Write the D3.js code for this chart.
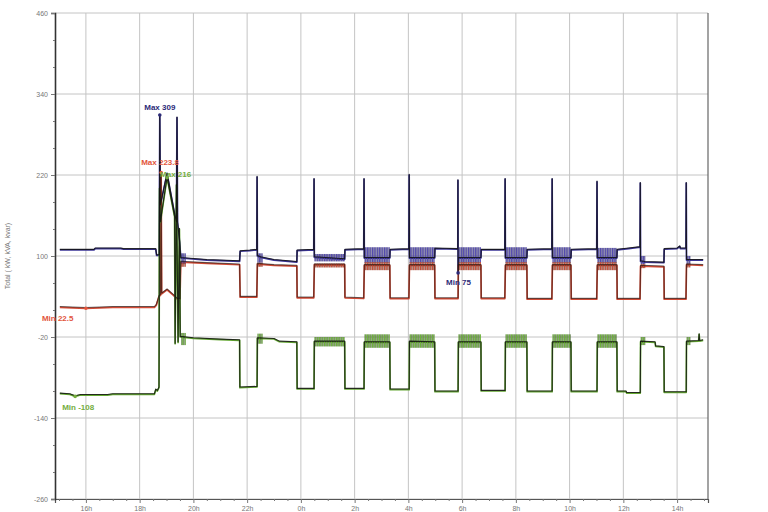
<!DOCTYPE html>
<html><head><meta charset="utf-8">
<script src="https://cdn.jsdelivr.net/npm/d3@7"></script>
<style>body{margin:0;background:#fff}svg{display:block}text{font-family:"Liberation Sans",Arial,sans-serif}</style>
</head><body><svg id="c" width="768" height="512"></svg>
<script>
// ---- data (hours; values > 24 are the next day) ----
const yTicks = [460, 340, 220, 100, -20, -140, -260];
const xTicks = [16, 18, 20, 22, 24, 26, 28, 30, 32, 34, 36, 38];
const yTitle = "Total ( kW, kVA, kvar)";

const kVA = [[15.03,109],[16.30,109],[16.35,111],[17.30,111],[17.40,110],[18.60,110],[18.63,101],[18.73,101],[18.75,309],[18.77,175],[19.02,222],[19.31,160],[19.37,150],[19.39,305],[19.41,150],[19.49,120],[19.53,97],[20.50,94],[21.72,92],
 [21.74,107],[22.10,108],[22.36,109],[22.37,217],[22.38,100],[22.50,98],[23.00,94],[23.85,91],
 [23.86,108],[24.48,109],[24.49,214],[24.50,98],[25.63,95],
 [25.64,109],[26.34,110],[26.35,214],[26.36,97],[27.31,97],
 [27.32,109],[28.02,110],[28.03,220],[28.04,97],[28.98,97],
 [28.99,111],[29.84,110],[29.845,212],[29.85,75],[29.86,97],[30.70,97],
 [30.71,109],[31.59,109],[31.60,214],[31.61,97],[32.41,97],
 [32.42,109],[33.34,110],[33.35,214],[33.36,97],[34.05,97],
 [34.06,109],[35.01,110],[35.02,210],[35.03,97],[35.76,97],
 [35.77,109],[36.20,111],[36.62,113],[36.63,208],[36.64,92],[36.80,91],[37.51,90],
 [37.52,110],[38.00,111],[38.10,114],[38.12,111],[38.33,111],[38.34,208],[38.35,94],[38.97,94]];

const kW = [[15.03,24],[16.00,22.5],[17.00,24],[18.55,24],[18.62,27],[18.72,40],[18.78,42],[18.80,223.8],[18.82,44],[19.02,50],[19.25,42],[19.40,36],[19.50,36],[19.53,91],[20.50,89],[21.72,87],
 [21.74,39],[22.36,39],[22.38,88],[23.00,86],[23.85,85],
 [23.86,38],[24.48,38],[24.50,87],[25.63,87],
 [25.64,38],[26.34,37],[26.36,86],[27.31,86],
 [27.32,37],[28.02,37],[28.04,86],[28.98,86],
 [28.99,37],[29.85,37],[29.86,86],[30.70,86],
 [30.71,37],[31.59,37],[31.61,86],[32.41,86],
 [32.42,36],[33.34,36],[33.36,86],[34.05,86],
 [34.06,36],[35.01,36],[35.03,86],[35.76,86],
 [35.77,36],[36.62,36],[36.64,85],[37.51,84],
 [37.52,36],[38.33,36],[38.35,87],[38.97,86]];

const kvar = [[15.03,-104],[15.40,-105],[15.60,-108],[15.80,-106],[16.80,-106],[17.00,-105],[18.55,-105],[18.60,-98],[18.66,-100],[18.72,-95],[18.74,200],[18.77,150],[19.02,216],[19.30,158],[19.32,-30],[19.37,205],[19.43,-28],[19.48,140],[19.51,-20],[20.00,-22],[21.00,-24],[21.72,-25],
 [21.73,-95],[22.37,-94],[22.38,-22],[23.00,-23],[23.20,-27],[23.85,-28],
 [23.86,-97],[24.49,-97],[24.50,-27],[25.63,-27],
 [25.64,-97],[26.35,-97],[26.36,-28],[27.31,-28],
 [27.32,-98],[28.03,-98],[28.04,-27],[28.98,-28],
 [28.99,-101],[29.85,-101],[29.86,-28],[30.70,-28],
 [30.71,-100],[31.60,-100],[31.61,-28],[32.41,-28],
 [32.42,-101],[33.35,-101],[33.36,-28],[34.05,-28],
 [34.06,-101],[35.02,-101],[35.03,-28],[35.76,-28],
 [35.77,-101],[36.10,-101],[36.12,-103],[36.63,-103],[36.64,-27],[37.18,-28],[37.20,-34],[37.51,-35],
 [37.52,-102],[38.34,-102],[38.35,-27],[38.80,-26],[38.82,-16],[38.84,-26],[38.97,-25]];

// noisy stretches and the range each trace fills inside them
const noiseSpans = [[19.54,19.72],[22.38,22.58],[24.50,25.63],[26.36,27.31],[28.04,28.98],[29.86,30.70],[31.61,32.41],[33.36,34.05],[35.03,35.76],[36.64,36.82],[38.35,38.50]];
const kVABand  = [[88,104],[90,104],[92,103],[90,113],[90,113],[90,113],[90,113],[90,113],[90,112],[88,100],[88,100]];
const kWBand   = [[84,90],[84,90],[83,89],[79,91],[79,91],[79,91],[79,91],[79,91],[79,91],[82,88],[83,89]];
const kvarBand = [[-32,-14],[-30,-15],[-34,-20],[-36,-16],[-36,-16],[-36,-16],[-36,-16],[-36,-16],[-36,-16],[-32,-20],[-32,-20]];

const notes = [
  {t:18.75, v:309,   text:"Max 309",   series:"kVA", dx:0,   dy:-5, anchor:"middle"},
  {t:18.80, v:223.8, text:"Max 223.8", series:"kW",  dx:-20, dy:-7, anchor:"start"},
  {t:19.02, v:216,   text:"Max 216",   series:"kvar",dx:-7,  dy:-1, anchor:"start"},
  {t:16.00, v:22.5,  text:"Min 22.5",  series:"kW",  dx:-44, dy:13, anchor:"start"},
  {t:15.60, v:-108,  text:"Min -108",  series:"kvar",dx:-13, dy:14, anchor:"start"},
  {t:29.85, v:75,    text:"Min 75",    series:"kVA", dx:-12, dy:12, anchor:"start"}
];

// ---- drawing ----
const colors = {kVA:"#3b3596", kW:"#d24a34", kvar:"#64a832"};
const labelColors = {kVA:"#2c2a78", kW:"#e2553c", kvar:"#74ad3e"};
const svg = d3.select("#c");
const L=55, R=708, T=13, B=499;
const x = d3.scaleLinear().domain([14.85,39.15]).range([L,R]);
const y = d3.scaleLinear().domain([-260,460]).range([B,T]);

const defs = svg.append("defs");
function stripe(id, col, dark){
  const p = defs.append("pattern").attr("id",id).attr("patternUnits","userSpaceOnUse").attr("width",2.4).attr("height",10);
  p.append("rect").attr("x",0).attr("y",0).attr("width",1.1).attr("height",10).attr("fill",col);
  p.append("rect").attr("x",1.2).attr("y",0).attr("width",0.8).attr("height",10).attr("fill",dark);
}
stripe("pB","#5046b0","#2a2466"); stripe("pR","#c84a32","#7a3020"); stripe("pG","#6cb634","#2e5018");

// grid
svg.append("g").selectAll("line").data(yTicks).join("line")
  .attr("x1",L).attr("x2",R).attr("y1",d=>y(d)).attr("y2",d=>y(d))
  .attr("stroke","#c4c4c4").attr("stroke-width",1);
svg.append("g").selectAll("line").data(xTicks).join("line")
  .attr("x1",d=>x(d)).attr("x2",d=>x(d)).attr("y1",T).attr("y2",B)
  .attr("stroke","#c4c4c4").attr("stroke-width",1);

// axes
const fmtH = d => (d % 24) + "h";
const gx = svg.append("g").attr("transform",`translate(0,${B})`)
  .call(d3.axisBottom(x).tickValues(xTicks).tickSize(4).tickFormat(fmtH));
const minorX = d3.range(15, 39.01, 0.5).filter(d=>!xTicks.includes(d));
svg.append("g").attr("transform",`translate(0,${B})`)
  .call(d3.axisBottom(x).tickValues(minorX).tickSize(2).tickFormat(""))
  .call(g=>g.select(".domain").remove());
const gy = svg.append("g").attr("transform",`translate(${L},0)`)
  .call(d3.axisLeft(y).tickValues(yTicks).tickSize(4).tickFormat(d=>String(d)));
const minorY = d3.range(-260, 461, 40).filter(d=>!yTicks.includes(d));
svg.append("g").attr("transform",`translate(${L},0)`)
  .call(d3.axisLeft(y).tickValues(minorY).tickSize(2).tickFormat(""))
  .call(g=>g.select(".domain").remove());
svg.selectAll(".tick line").attr("stroke","#777");
[gx,gy].forEach(g=>{
  g.selectAll("text").attr("fill","#777").attr("font-size","7px");
  g.select(".domain").attr("stroke","#333").attr("stroke-width",1.6);
});
gx.select(".domain").attr("stroke","#555").attr("stroke-width",1.2);
svg.append("line").attr("x1",R).attr("x2",R).attr("y1",T).attr("y2",B).attr("stroke","#666").attr("stroke-width",1.2);

svg.append("text").attr("transform",`translate(10,${(T+B)/2}) rotate(-90)`)
  .attr("text-anchor","middle").attr("font-size","7px").attr("fill","#777").text(yTitle);

// series
const line = d3.line().x(d=>x(d[0])).y(d=>y(d[1]));
const series = [["kVA",kVA],["kW",kW],["kvar",kvar]];
const plot = svg.append("g");
series.forEach(([k,data])=>{
  plot.append("path").attr("d",line(data)).attr("fill","none")
    .attr("stroke",colors[k]).attr("stroke-width",1.7).attr("stroke-linejoin","round");
});
// noise bands
const bandSets = [[kVABand,"pB"],[kWBand,"pR"],[kvarBand,"pG"]];
bandSets.forEach(([band,pat])=>{
  plot.append("g").selectAll("rect").data(noiseSpans).join("rect")
    .attr("x",d=>x(d[0])).attr("width",d=>x(d[1])-x(d[0]))
    .attr("y",(d,i)=>y(band[i][1])).attr("height",(d,i)=>y(band[i][0])-y(band[i][1]))
    .attr("fill",`url(#${pat})`);
});
// dark overlay traces
series.forEach(([k,data])=>{
  plot.append("path").attr("d",line(data)).attr("fill","none")
    .attr("transform", k==="kW" ? "translate(0,-0.8)" : "translate(0,-0.6)")
    .attr("stroke","#111").attr("stroke-opacity", k==="kW" ? 0.6 : 0.85)
    .attr("stroke-width",1.1).attr("stroke-linejoin","round");
});

// annotations
notes.forEach(n=>{
  const px=x(n.t), py=y(n.v);
  svg.append("circle").attr("cx",px).attr("cy",py).attr("r",1.8).attr("fill",labelColors[n.series]);
  svg.append("text").attr("x",px+n.dx).attr("y",py+n.dy).attr("text-anchor",n.anchor)
    .attr("font-size","8px").attr("font-weight","bold").attr("fill",labelColors[n.series]).text(n.text);
});
</script></body></html>
